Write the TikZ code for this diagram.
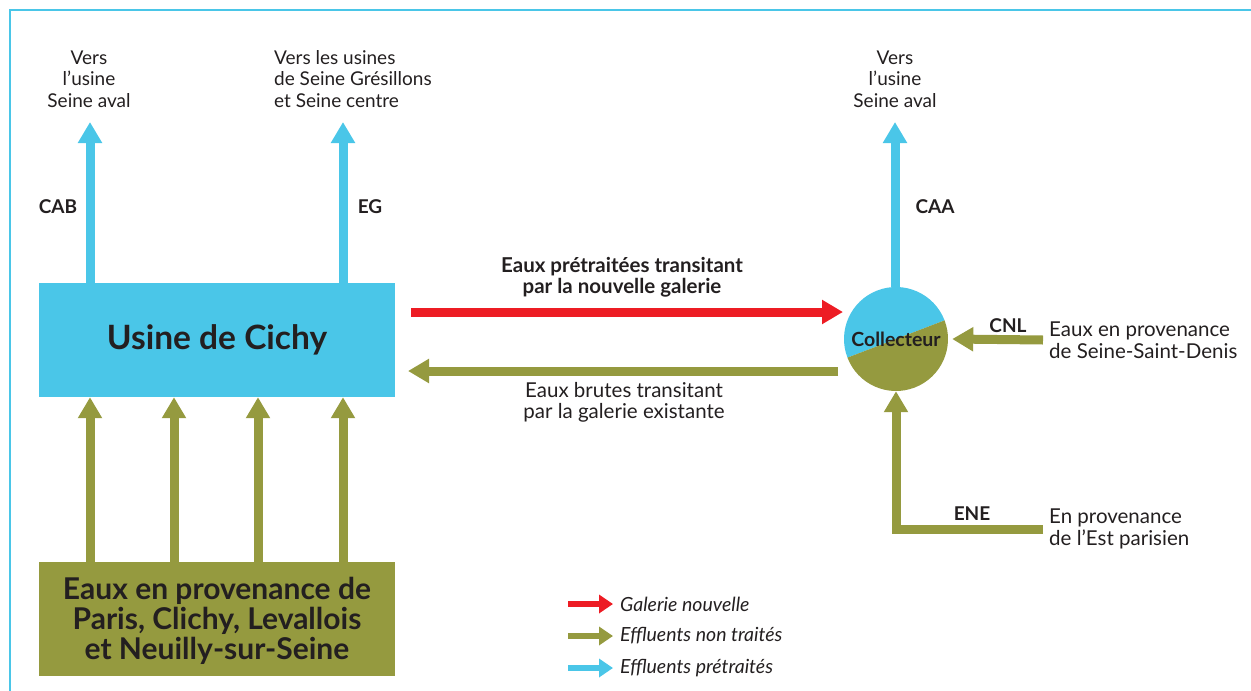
\documentclass[tikz,border=0pt]{standalone}
\usepackage{fontspec}
\setmainfont{Lato}
\usetikzlibrary{arrows.meta}
\definecolor{cy}{HTML}{4AC6E8}
\definecolor{ol}{HTML}{959A3F}
\definecolor{rd}{HTML}{ED1C24}
\definecolor{tx}{HTML}{231F20}
\begin{document}
\begin{tikzpicture}[x=1pt,y=-1pt,
  every node/.style={text=tx, inner sep=0pt},
  txt/.style={font=\fontsize{19}{21.5}\selectfont, align=center},
  txtl/.style={font=\fontsize{20.5}{22}\selectfont, align=left, anchor=west},
  lab/.style={font=\bfseries\fontsize{19}{22}\selectfont},
  boxnode/.style={minimum width=356pt, minimum height=114pt, inner sep=0pt},
  flow/.style={line width=9pt, -{Triangle[length=21pt,width=23pt]}},
  legarrow/.style={line width=6pt, -{Triangle[length=14pt,width=18pt]}},
  legtxt/.style={font=\itshape\fontsize{19.5}{20}\selectfont, anchor=west}]
\useasboundingbox (0,0) rectangle (1251,691);
\draw[cy, line width=2pt] (1251,10) -- (10,10) -- (10,691);

% main boxes
\node[boxnode, fill=cy, font=\bfseries\fontsize{33.5}{36}\selectfont] (usine) at (217,340) {Usine de Cichy};
\node[boxnode, fill=ol] (src) at (217,619) {};
\node[align=center, font=\bfseries\fontsize{30}{30}\selectfont] (srctxt) at (217,621)
  {Eaux en provenance de\\Paris, Clichy, Levallois\\et Neuilly-sur-Seine};

% collector
\node[circle, minimum size=104pt, inner sep=0pt] (coll) at (896,339) {};
\fill[cy] (coll.center) ++(-21:52) arc[start angle=-21, end angle=-201, radius=52] -- cycle;
\fill[ol] (coll.center) ++(-201:52) arc[start angle=-201, end angle=-381, radius=52] -- cycle;
\node[font=\bfseries\fontsize{19.5}{20}\selectfont] (colltxt) at (coll.center) {Collecteur};

% top destination texts
\node[txt] (dA) at (89,79) {Vers\\l'usine\\Seine aval};
\node[txt, align=left, anchor=west] (dB) at (274,79) {Vers les usines\\de Seine Grésillons\\et Seine centre};
\node[txt] (dC) at (895,79) {Vers\\l'usine\\Seine aval};
\coordinate (tA) at (90,122);
\coordinate (tB) at (343,122);
\coordinate (tC) at (895,122);

% x positions of inflows
\coordinate (x1) at (90,0);
\coordinate (x2) at (174,0);
\coordinate (x3) at (258,0);
\coordinate (x4) at (343,0);
\foreach \c in {x1,x2,x3,x4}
  \draw[flow, ol] (src.north -| \c) -- (usine.south -| \c);

% outflows
\draw[flow, cy] (usine.north -| tA) -- (tA);
\draw[flow, cy] (usine.north -| tB) -- (tB);
\draw[flow, cy] (coll.north -| tC) -- (tC);
\node[lab] (cab) at (58,207) {CAB};
\node[lab] (eg) at (370,207) {EG};
\node[lab] (caa) at (935,207) {CAA};

% red new gallery
\coordinate (r1) at (411,312);
\coordinate (r2) at (843,312);
\draw[flow, rd] (r1) -- (r2);
\node[font=\bfseries\fontsize{20.5}{21}\selectfont, align=center] (rlab) at (622,277)
  {Eaux prétraitées transitant\\par la nouvelle galerie};

% olive existing gallery
\coordinate (o1) at (838,371);
\coordinate (o2) at (408,371);
\draw[flow, ol] (o1) -- (o2);
\node[font=\fontsize{20.5}{21}\selectfont, align=center] (olab) at (624,402)
  {Eaux brutes transitant\\par la galerie existante};

% CNL
\node[txtl] (cnltxt) at (1049,340) {Eaux en provenance\\de Seine-Saint-Denis};
\draw[flow, ol] ([xshift=-6pt]cnltxt.west) -- ([xshift=4pt]coll.east);
\node[lab] (cnl) at (1008,326) {CNL};

% ENE
\node[txtl] (enetxt) at (1049,529) {En provenance\\de l'Est parisien};
\draw[flow, ol] ([xshift=-6pt]enetxt.west) -| (coll.south);
\node[lab] (ene) at (972,514) {ENE};

% legend
\coordinate (l1a) at (568,604); \coordinate (l1b) at (613,604);
\coordinate (l2a) at (568,636); \coordinate (l2b) at (613,636);
\coordinate (l3a) at (568,668); \coordinate (l3b) at (613,668);
\draw[legarrow, rd] (l1a) -- (l1b);
\draw[legarrow, ol] (l2a) -- (l2b);
\draw[legarrow, cy] (l3a) -- (l3b);
\node[legtxt] (g1) at (620,604) {Galerie nouvelle};
\node[legtxt] (g2) at (620,636) {Effluents non traités};
\node[legtxt] (g3) at (620,668) {Effluents prétraités};
\end{tikzpicture}
\end{document}
